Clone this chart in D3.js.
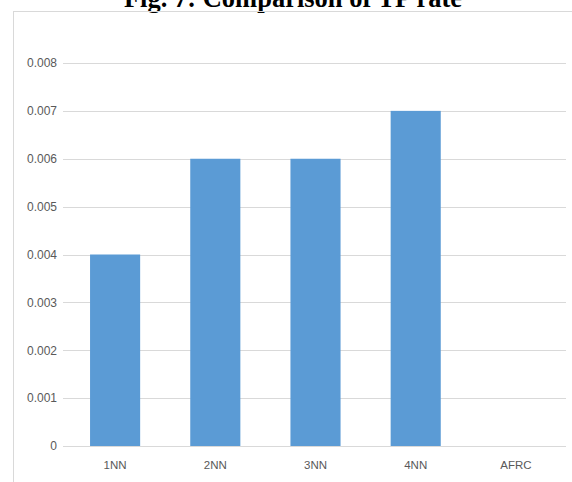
<!DOCTYPE html>
<html>
<head>
<meta charset="utf-8">
<script src="https://cdn.jsdelivr.net/npm/d3@7"></script>
<style>
  html, body { margin: 0; padding: 0; background: #fff; }
  svg { display: block; }
</style>
</head>
<body>
<svg id="chart" width="572" height="482"></svg>
<script>
// TP rate per method
const categories = ["1NN", "2NN", "3NN", "4NN", "AFRC"];
const tpRate = [0.004, 0.006, 0.006, 0.007, 0];
const yTicks = [0, 0.001, 0.002, 0.003, 0.004, 0.005, 0.006, 0.007, 0.008];
const yTickLabels = ["0", "0.001", "0.002", "0.003", "0.004", "0.005", "0.006", "0.007", "0.008"];

const svg = d3.select("#chart");
const W = 572, H = 482;
const plot = { left: 65, right: 566, top: 63, bottom: 446 };
const labelFont = "'Liberation Sans', Arial, sans-serif";

// figure caption
svg.append("text")
  .attr("x", 293)
  .attr("y", 7)
  .attr("text-anchor", "middle")
  .attr("font-family", "'Liberation Serif', 'Times New Roman', serif")
  .attr("font-weight", "bold")
  .attr("font-size", 26.5)
  .attr("fill", "#000")
  .text("Fig. 7: Comparison of TP rate");

// chart area frame (top and left edges)
svg.append("line")
  .attr("x1", 13).attr("x2", W).attr("y1", 11.5).attr("y2", 11.5)
  .attr("stroke", "#d9d9d9").attr("stroke-width", 1);
svg.append("line")
  .attr("x1", 13.5).attr("x2", 13.5).attr("y1", 11).attr("y2", H)
  .attr("stroke", "#d9d9d9").attr("stroke-width", 1);

const x = d3.scaleBand()
  .domain(categories)
  .range([plot.left, plot.right])
  .paddingInner(0.5)
  .paddingOuter(0.25);

const y = d3.scaleLinear()
  .domain([0, 0.008])
  .range([plot.bottom, plot.top]);

// horizontal gridlines
svg.append("g")
  .selectAll("line")
  .data(yTicks)
  .join("line")
  .attr("x1", 63).attr("x2", plot.right)
  .attr("y1", d => Math.round(y(d)) + 0.5)
  .attr("y2", d => Math.round(y(d)) + 0.5)
  .attr("stroke", "#d9d9d9")
  .attr("stroke-width", 1.2);

// y axis labels
const yAxis = d3.axisLeft(y)
  .tickValues(yTicks)
  .tickFormat((d, i) => yTickLabels[i])
  .tickSize(0)
  .tickPadding(0);
const gy = svg.append("g")
  .attr("transform", `translate(57,0)`)
  .call(yAxis);
gy.select(".domain").remove();
gy.selectAll("text")
  .attr("font-family", labelFont)
  .attr("font-size", 12)
  .attr("fill", "#595959");

// bars
svg.append("g")
  .selectAll("rect")
  .data(categories.map((c, i) => ({ c, v: tpRate[i] })))
  .join("rect")
  .attr("x", d => x(d.c))
  .attr("width", x.bandwidth())
  .attr("y", d => y(d.v))
  .attr("height", d => y(0) - y(d.v))
  .attr("fill", "#5B9BD5");

// category axis labels
const xAxis = d3.axisBottom(x).tickSize(0).tickPadding(0);
const gx = svg.append("g")
  .attr("transform", `translate(0,${plot.bottom + 15})`)
  .call(xAxis);
gx.select(".domain").remove();
gx.selectAll("text")
  .attr("font-family", labelFont)
  .attr("font-size", 11.5)
  .attr("fill", "#595959");
</script>
</body>
</html>
